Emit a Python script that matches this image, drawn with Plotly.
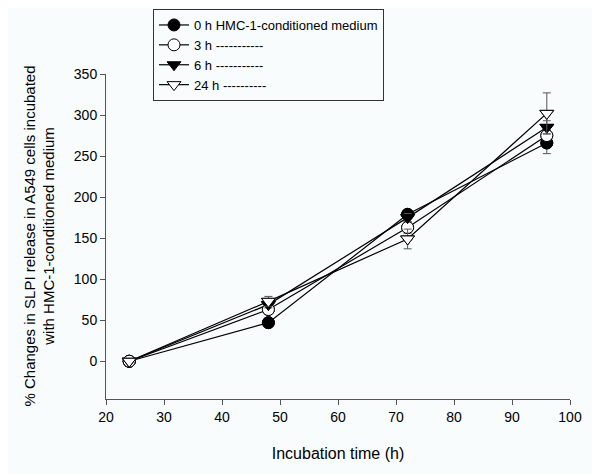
import plotly.graph_objects as go

hours = [24, 48, 72, 96]
series_names = ["0 h HMC-1-conditioned medium", "3 h -----------", "6 h -----------", "24 h ----------"]
v0 = [0, 47, 179, 266]
v3 = [0, 63, 163, 275]
v6 = [0, 69, 175, 285]
v24 = [0, 73, 149, 302]
e0 = [0, 3, 4, 13]
e3 = [0, 4, 7, 6]
e6 = [0, 4, 5, 8]
e24 = [0, 6, 12, 25]

values = [v0, v3, v6, v24]
errors = [e0, e3, e6, e24]
symbols = ["circle", "circle", "triangle-down", "triangle-down"]
fills = ["black", "white", "black", "white"]

bg = "#f8fcfd"
font = "Liberation Sans, Arial, sans-serif"

W, H = 592, 466
L, R, T, B = 98, 30, 66, 75
plot_w = W - L - R
plot_h = H - T - B

fig = go.Figure()
for name, v, sym, fc in zip(series_names, values, symbols, fills):
    fig.add_trace(go.Scatter(
        x=hours, y=v, name=name, mode="lines+markers",
        line=dict(color="black", width=1.2),
        marker=dict(symbol=sym, size=12, color=fc, line=dict(color="black", width=1)),
    ))
for name, v, e, sym, fc in zip(series_names, values, errors, symbols, fills):
    fig.add_trace(go.Scatter(
        x=hours, y=v, mode="markers", showlegend=False,
        error_y=dict(type="data", array=e, visible=True, color="#555555", thickness=1, width=4),
        marker=dict(symbol=sym, size=12, color=fc, line=dict(color="black", width=1)),
    ))

fig.update_layout(
    width=W, height=H,
    margin=dict(l=L, r=R, t=T, b=B, autoexpand=False),
    paper_bgcolor=bg, plot_bgcolor=bg,
    font=dict(family=font, size=14, color="black"),
    showlegend=True,
    legend=dict(x=(145 - L) / plot_w, y=(H - B - 1) / plot_h, xanchor="left", yanchor="top",
                bgcolor=bg, bordercolor="#333333", borderwidth=1,
                font=dict(size=13), tracegroupgap=0, itemwidth=30),
    xaxis=dict(range=[20, 100], tickvals=[20, 30, 40, 50, 60, 70, 80, 90, 100],
               showgrid=False, zeroline=False, showline=True, linecolor="#555555",
               ticks="outside", ticklen=5, tickcolor="#555555", automargin=False,
               title=dict(text="Incubation time (h)", font=dict(size=16), standoff=24)),
    yaxis=dict(range=[-46, 350], tickvals=[0, 50, 100, 150, 200, 250, 300, 350],
               showgrid=False, zeroline=False, showline=True, linecolor="#555555",
               ticks="outside", ticklen=5, tickcolor="#555555", automargin=False),
    annotations=[dict(
        text="% Changes in SLPI release in A549 cells incubated<br>with HMC-1-conditioned medium",
        xref="paper", yref="paper", x=(31 - L) / plot_w, y=0.5,
        xanchor="center", yanchor="middle", textangle=-90, showarrow=False,
        font=dict(size=15))],
)

fig.write_html("out.html")
